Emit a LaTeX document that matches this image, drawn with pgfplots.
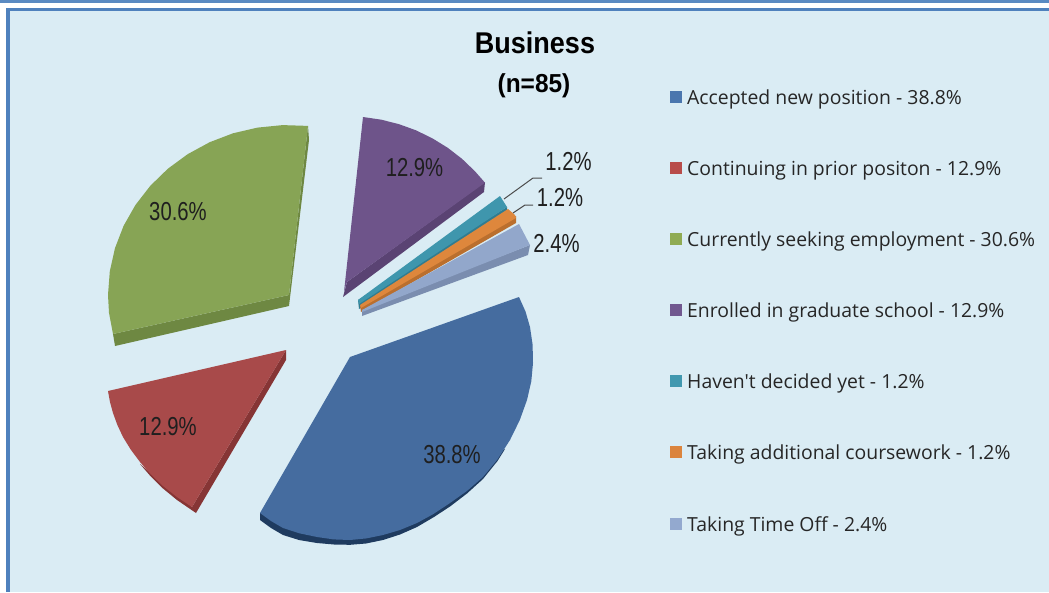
\documentclass[border=0pt]{standalone}
\usepackage{pgfplots}
\pgfplotsset{compat=1.18}
\usepackage{fontspec}
\setmainfont{Liberation Sans}
\newfontfamily\legfont{Open Sans}
\definecolor{bgc}{HTML}{DAECF4}
\definecolor{frm}{HTML}{4F81BD}
\definecolor{frmb}{HTML}{5A8AC2}
\definecolor{cblue}{HTML}{456C9F}
\definecolor{cblued}{HTML}{1F3B5F}
\definecolor{cred}{HTML}{A84A4A}
\definecolor{credd}{HTML}{863535}
\definecolor{cgreen}{HTML}{87A455}
\definecolor{cgreend}{HTML}{6E8842}
\definecolor{cpurple}{HTML}{6E548A}
\definecolor{cpurpled}{HTML}{5A4373}
\definecolor{cteal}{HTML}{3F96AD}
\definecolor{ctequal}{HTML}{317C90}
\definecolor{corange}{HTML}{DE873C}
\definecolor{coranged}{HTML}{BA6F2E}
\definecolor{clight}{HTML}{92A7CB}
\definecolor{clightd}{HTML}{7A8DAF}
\definecolor{legblue}{HTML}{4A76AE}
\definecolor{legred}{HTML}{B84C4A}
\definecolor{leggreen}{HTML}{8FAB53}
\definecolor{legpurple}{HTML}{71588F}
\definecolor{legteal}{HTML}{4198AF}
\definecolor{legorange}{HTML}{DB843D}
\definecolor{leglight}{HTML}{93A9CF}
\newcommand{\lab}[3]{\node[inner sep=0pt,anchor=center,xscale=.78,text=black!88] at (axis cs:#1,#2) {\fontsize{26bp}{26bp}\selectfont #3};}
\newcommand{\leg}[2]{\node[inner sep=0pt,anchor=base west,text=black!85] at (axis cs:687,#1) {\legfont\fontsize{19.4bp}{20bp}\selectfont #2};}
\pgfplotsset{swatch/.style={only marks,mark=square*,mark size=5.8bp,mark options={draw=#1,fill=#1,line width=0pt}}}
\begin{document}
\begin{tikzpicture}
\begin{axis}[
  scale only axis, width=1049bp, height=592bp,
  xmin=0, xmax=1049, ymin=0, ymax=592, y dir=reverse,
  hide axis, clip=true]
% page and frame
\addplot[fill=white,draw=none,mark=none] coordinates {(0,0)(1049,0)(1049,592)(0,592)} --cycle;
\addplot[fill=frmb,draw=none,mark=none] coordinates {(0,0)(1049,0)(1049,3.5)(0,3.5)} --cycle;
\addplot[fill=frm,draw=none,mark=none] coordinates {(6,8)(1049,8)(1049,592)(6,592)} --cycle;
\addplot[fill=bgc,draw=none,mark=none] coordinates {(9.5,11.5)(1049,11.5)(1049,592)(9.5,592)} --cycle;
% blue
\addplot[fill=cblued,draw=none,mark=none] coordinates {(260,513)(260,520)(271,528)(283,535)(299,540)(317,543)(334,544.5)(350,544.8)(366,543.5)(383,540)(400,534.5)(417,527)(434,517)(450,506.5)(467,493.5)(483,479)(497.5,461)(505,449)(450,480)(350,520)} --cycle;
\addplot[fill=cblue,draw=none,mark=none] coordinates {(519,297)(350,357)(260,513)(271,521)(283,528)(299.4,533.3)(317,537)(333.6,539.4)(350,540)(366.4,538.4)(383,535)(400,530)(417,523)(433.6,513.9)(450,503)(466.9,491)(483,477)(497.5,459.4)(510,440)(519.8,420)(527,400)(531.3,381.3)(533,363)(532.6,344.6)(530,327)(525.5,311.5)} --cycle;
% red
\addplot[fill=credd,draw=none,mark=none] coordinates {(286,350)(286,360)(196,513)(177,500)(163,488.5)(150.8,476.5)(140,464)(192,507)} --cycle;
\addplot[fill=cred,draw=none,mark=none] coordinates {(286,350)(108,391)(110,402)(113,413)(117.3,424.8)(123,437)(130.7,449.5)(140,462)(150.8,474.3)(163,486)(177,497)(192,507)} --cycle;
% green
\addplot[fill=cgreend,draw=none,mark=none] coordinates {(308,126)(309,140)(289,306)(115,346)(113,334)(289,295)} --cycle;
\addplot[fill=cgreen,draw=none,mark=none] coordinates {(308,125.9)(282.7,125.1)(257.5,127.6)(233,133.3)(209.7,142.2)(187.8,154.1)(167.9,168.7)(150.4,185.7)(135.5,204.9)(123.6,225.8)(115,248.1)(109.8,271.3)(108,295)(109,312.8)(113,334)(289,295)} --cycle;
% purple
\addplot[fill=cpurpled,draw=none,mark=none] coordinates {(485,182)(484,192)(343,297)(347,282)} --cycle;
\addplot[fill=cpurple,draw=none,mark=none] coordinates {(363,117)(381.4,119.7)(399.1,124.2)(416.2,130.4)(432.5,138.4)(447.9,147.9)(462.1,158.9)(475,171.3)(485,182.7)(347,282)(344,292)} --cycle;
% teal
\addplot[fill=ctequal,draw=none,mark=none] coordinates {(507,207)(507,211)(359,309)(358,300)} --cycle;
\addplot[fill=cteal,draw=none,mark=none] coordinates {(358,300)(500,196)(507,207)(359,304)} --cycle;
% orange
\addplot[fill=coranged,draw=none,mark=none] coordinates {(516,216)(516,223)(361,312)(360,306)} --cycle;
\addplot[fill=corange,draw=none,mark=none] coordinates {(360,305)(508,209)(515,215)(516,218)(361,308)} --cycle;
% light blue
\addplot[fill=clightd,draw=none,mark=none] coordinates {(530,245)(528,255)(362,316)(362,310)} --cycle;
\addplot[fill=clight,draw=none,mark=none] coordinates {(362,310)(519,224)(530,245)(362,312)} --cycle;
% leader lines
\addplot[draw=black!70,line width=1bp,mark=none] coordinates {(504,199)(533,178)(542,178)};
\addplot[draw=black!70,line width=1bp,mark=none] coordinates {(513,213)(525,205)(533,205)};
% legend swatches
\addplot[swatch=legblue] coordinates {(676,97)};
\addplot[swatch=legred] coordinates {(676,168)};
\addplot[swatch=leggreen] coordinates {(676,239)};
\addplot[swatch=legpurple] coordinates {(676,310)};
\addplot[swatch=legteal] coordinates {(676,381)};
\addplot[swatch=legorange] coordinates {(676,452)};
\addplot[swatch=leglight] coordinates {(676,524)};
% text
\node[inner sep=0pt,xscale=.9] at (axis cs:535,43) {\fontsize{30bp}{30bp}\selectfont\bfseries Business};
\node[inner sep=0pt,xscale=.94] at (axis cs:534,86) {\fontsize{26bp}{26bp}\selectfont\bfseries (n=85)};
\lab{414.5}{168}{12.9\%}
\lab{178}{212}{30.6\%}
\lab{168}{427}{12.9\%}
\lab{452}{455}{38.8\%}
\lab{568.5}{161}{1.2\%}
\lab{560}{197}{1.2\%}
\lab{556.5}{243}{2.4\%}
\leg{104}{Accepted new position - 38.8\%}
\leg{175}{Continuing in prior positon - 12.9\%}
\leg{246}{Currently seeking employment - 30.6\%}
\leg{317}{Enrolled in graduate school - 12.9\%}
\leg{388}{Haven't decided yet - 1.2\%}
\leg{459}{Taking additional coursework - 1.2\%}
\leg{531}{Taking Time Off - 2.4\%}
\end{axis}
\end{tikzpicture}
\end{document}
